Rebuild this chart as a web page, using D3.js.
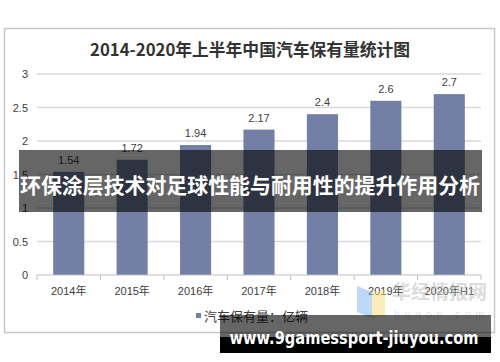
<!DOCTYPE html>
<html><head><meta charset="utf-8">
<script src="https://cdn.jsdelivr.net/npm/d3@7"></script>
<style>body{margin:0;background:#fff;}svg{display:block;}</style>
</head><body>
<svg id="c" width="500" height="362"></svg>
<script>
const categories = ["2014年","2015年","2016年","2017年","2018年","2019年","2020年H1"];
const values = [1.54, 1.72, 1.94, 2.17, 2.4, 2.6, 2.7];
const yTicks = [0, 0.5, 1, 1.5, 2, 2.5, 3];
const title = "2014-2020年上半年中国汽车保有量统计图";
const legendLabel = "汽车保有量：亿辆";
const overlayText = "环保涂层技术对足球性能与耐用性的提升作用分析";
const siteText = "www.9gamessport-jiuyou.com";

const svg = d3.select("#c");
const sans = "'Liberation Sans','Noto Sans CJK SC',sans-serif";

// chart frame
svg.append("rect").attr("x",4.5).attr("y",28.5).attr("width",490).attr("height",304)
  .attr("fill","#fff").attr("stroke","#c8c8c8").attr("stroke-width",1.5);

svg.append("text").attr("x",250).attr("y",56).attr("text-anchor","middle")
  .attr("font-family","'Noto Sans CJK SC',sans-serif").attr("font-weight","bold")
  .attr("font-size",17).attr("fill","#333").attr("textLength",320).attr("lengthAdjust","spacingAndGlyphs")
  .text(title);

const x = d3.scaleBand().domain(categories).range([37,481]).paddingInner(0.51).paddingOuter(0.255);
const y = d3.scaleLinear().domain([0,3]).range([275,74]);

// grid
svg.append("g").selectAll("line").data(yTicks.filter(d=>d>0)).join("line")
  .attr("x1",37).attr("x2",481).attr("y1",d=>y(d)).attr("y2",d=>y(d))
  .attr("stroke","#d9d9d9").attr("stroke-width",1.5);

// y labels
svg.append("g").selectAll("text").data(yTicks).join("text")
  .attr("x",28).attr("y",d=>y(d)+4).attr("text-anchor","end")
  .attr("font-family",sans).attr("font-size",11).attr("fill","#404040").text(d=>d);

// bars
svg.append("g").selectAll("rect").data(values).join("rect")
  .attr("x",(d,i)=>x(categories[i])).attr("width",x.bandwidth())
  .attr("y",d=>y(d)).attr("height",d=>y(0)-y(d)).attr("fill","#737fa4");

// value labels
svg.append("g").selectAll("text").data(values).join("text")
  .attr("x",(d,i)=>x(categories[i])+x.bandwidth()/2).attr("y",d=>y(d)-8)
  .attr("text-anchor","middle").attr("font-family",sans).attr("font-size",11)
  .attr("fill","#404040").text(d=>d);

// x axis
const gx = svg.append("g").attr("transform","translate(0,275)");
gx.append("line").attr("x1",37).attr("x2",481).attr("stroke","#bfbfbf").attr("stroke-width",1);
const step = x.step();
gx.selectAll("line.tk").data(d3.range(categories.length+1)).join("line").attr("class","tk")
  .attr("x1",i=>37+i*step).attr("x2",i=>37+i*step).attr("y1",0).attr("y2",5)
  .attr("stroke","#bfbfbf");
gx.selectAll("text").data(categories).join("text")
  .attr("x",d=>x(d)+x.bandwidth()/2).attr("y",20).attr("text-anchor","middle")
  .attr("font-family",sans).attr("font-size",11).attr("fill","#404040").text(d=>d);

// watermark
const wm = svg.append("g").attr("opacity",0.5);
wm.append("path").attr("d","M357,286 L372,292 L372,318 L357,312 Z").attr("fill","#7fb2f0");
wm.append("path").attr("d","M372,292 L385,290 L385,316 L372,318 Z").attr("fill","#f7dd72");
wm.append("text").attr("x",392).attr("y",299).attr("font-family","'Noto Sans CJK SC',sans-serif")
  .attr("font-weight","bold").attr("font-size",19).attr("fill","#bbb").text("华经情报网");
wm.append("text").attr("x",394).attr("y",318).attr("font-family",sans).attr("font-size",11)
  .attr("letter-spacing",4.5).attr("fill","#ccc").text("huaon.com");

// legend
svg.append("rect").attr("x",196).attr("y",313).attr("width",5).attr("height",5).attr("fill","#737fa4");
svg.append("text").attr("x",204).attr("y",321).attr("font-family","'Noto Sans CJK SC',sans-serif")
  .attr("font-size",13).attr("fill","#404040").text(legendLabel);

// overlay banner
svg.append("rect").attr("x",19).attr("y",150).attr("width",463).attr("height",62)
  .attr("fill","#000").attr("opacity",0.6);
svg.append("text").attr("x",250).attr("y",193).attr("text-anchor","middle")
  .attr("font-family","'Noto Sans CJK SC',sans-serif").attr("font-weight","bold")
  .attr("font-size",21).attr("fill","#fff").attr("textLength",460).attr("lengthAdjust","spacingAndGlyphs")
  .text(overlayText);

// bottom banner
svg.append("rect").attr("x",220).attr("y",315).attr("width",271).attr("height",22)
  .attr("fill","#000").attr("opacity",0.6);
svg.append("rect").attr("x",220).attr("y",337).attr("width",271).attr("height",16).attr("fill","#000");
svg.append("text").attr("x",354).attr("y",344).attr("text-anchor","middle")
  .attr("font-family","'DejaVu Sans',sans-serif").attr("font-weight","bold")
  .attr("font-size",17).attr("fill","#fff").attr("textLength",249).attr("lengthAdjust","spacingAndGlyphs")
  .text(siteText);
</script>
</body></html>
